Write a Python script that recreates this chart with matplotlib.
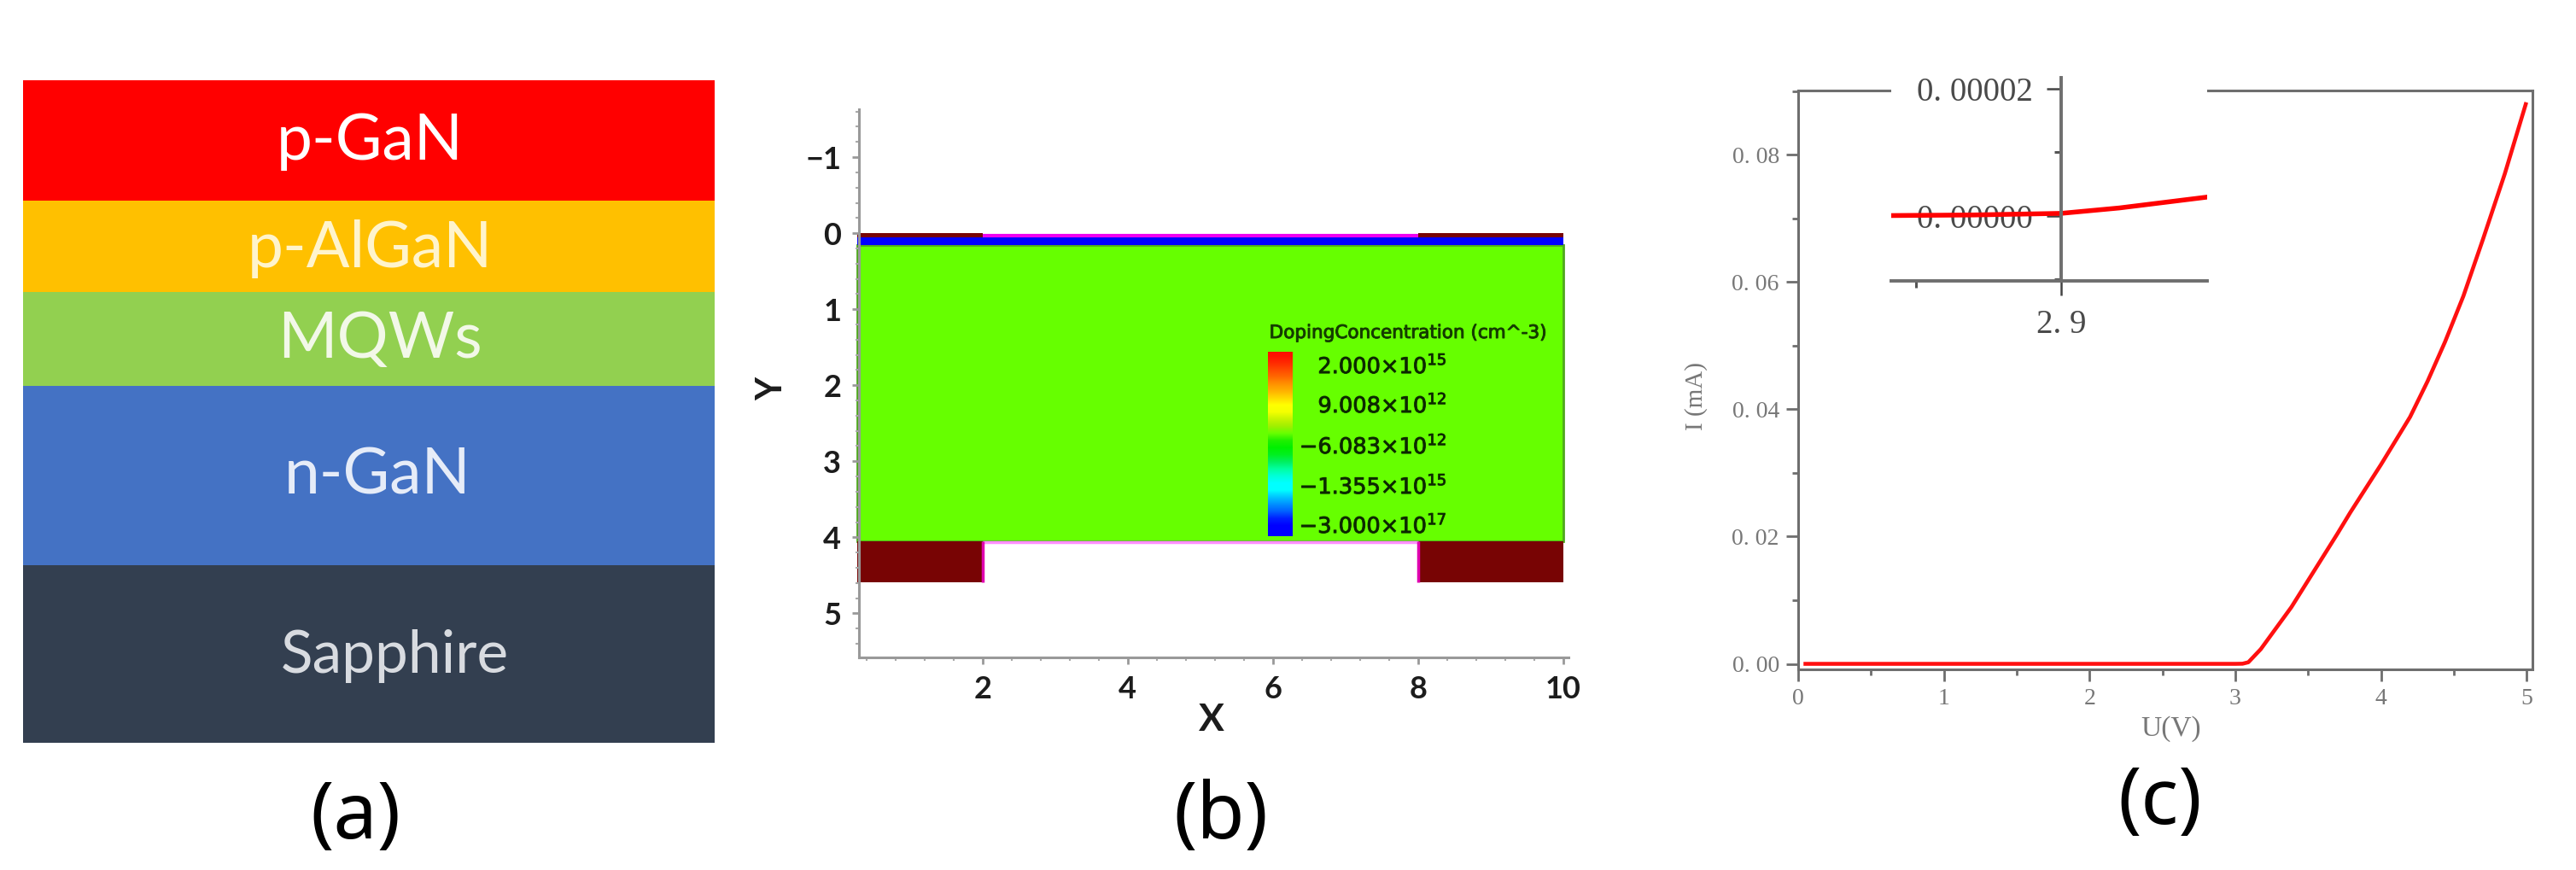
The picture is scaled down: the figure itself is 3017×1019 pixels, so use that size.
import numpy as np
import matplotlib
matplotlib.use("Agg")
import matplotlib.pyplot as plt
import matplotlib.patheffects as pe
from matplotlib.colors import to_rgb
from matplotlib.ticker import MultipleLocator

plt.rcParams["mathtext.default"] = "regular"

W, H = 3017, 1019

# -------------------- data --------------------
# panel a: layer stack, top to bottom
layer_names = ["p-GaN", "p-AlGaN", "MQWs", "n-GaN", "Sapphire"]
layer_heights = [141, 107, 110, 209, 208]
layer_colors = ["#ff0000", "#ffc000", "#92d050", "#4472c4", "#333f50"]

# panel b: device regions (x0, x1, y0, y1)
contact_regions = [(0.28, 2, 0.0, 0.05), (8, 10, 0.0, 0.05),
                   (0.28, 2, 4.05, 4.59), (8, 10, 4.05, 4.59)]
blue_region = (0.28, 10, 0.04, 0.16)
green_region = (0.28, 10, 0.16, 4.05)
doping_labels = ["2.000×10$^{15}$", "9.008×10$^{12}$", "−6.083×10$^{12}$",
                 "−1.355×10$^{15}$", "−3.000×10$^{17}$"]
doping_steps = ["#ff1000", "#ff2800", "#ff4800", "#ff6800", "#ff9000", "#ffb000",
                "#ffd800", "#ffff00", "#f4ff00", "#c8f400", "#a0f000", "#66ff00",
                "#20f000", "#00f000", "#00f020", "#00f060", "#00ffa0", "#00ffd8",
                "#00ffff", "#00ffff", "#00c4ff", "#0090ff", "#0060ff", "#0020ff",
                "#0000ff", "#0000ff"]

# panel c: I-V curve
voltage = [0.05, 1.0, 2.0, 3.0, 3.05, 3.09, 3.175, 3.385, 3.70, 3.79, 4.00, 4.20,
           4.32, 4.44, 4.566, 4.70, 4.85, 4.994]
current = [0, 0, 0, 0, 0.00002, 0.00025, 0.0023, 0.0089, 0.0204, 0.0238, 0.0313, 0.0388,
           0.0444, 0.0506, 0.0578, 0.0667, 0.0770, 0.08795]
inset_voltage = [2.84, 2.87, 2.90, 2.92, 2.95]
inset_current = [0, 0.1e-6, 0.35e-6, 1.2e-6, 2.9e-6]


def px_axes(left, top, right, bottom, **kw):
    return fig.add_axes([left / W, 1 - bottom / H, (right - left) / W, (bottom - top) / H], **kw)


def px_text(x, y, s, **kw):
    return fig.text(x / W, 1 - y / H, s, ha=kw.pop("ha", "center"), va=kw.pop("va", "center"), **kw)


fig = plt.figure(figsize=(W / 100, H / 100), dpi=100, facecolor="white")

# -------------------- panel a --------------------
ax_a = px_axes(27, 94, 837, 870)
ax_a.axis("off")
ax_a.set_xlim(0, 1)
ax_a.set_ylim(sum(layer_heights), 0)
top = 0
for height, color in zip(layer_heights, layer_colors):
    ax_a.bar(0.5, height, width=1, bottom=top, color=color)
    top += height

layer_text_x = [433, 433, 445, 442, 462]
layer_text_y = [166, 291, 397, 557, 768]
layer_text_size = [54, 54, 54, 54, 50]
layer_text_color = ["white", "#fff4cc", "#f2f8e8", "#e6ecf8", "#d8dbe0"]
for i, name in enumerate(layer_names):
    px_text(layer_text_x[i], layer_text_y[i], name, color=layer_text_color[i],
            fontsize=layer_text_size[i], family="Lato")

# -------------------- panel b --------------------
ax_b = px_axes(1006, 128, 1837, 770)
ax_b.set_xlim(0.3, 10.07)
ax_b.set_ylim(5.58, -1.63)

x0, x1, y0, y1 = green_region
ax_b.fill([x0, x1, x1, x0], [y0, y0, y1, y1], facecolor="#66ff00", edgecolor="#4fa81e", lw=2, clip_on=False)
x0, x1, y0, y1 = blue_region
ax_b.fill([x0, x1, x1, x0], [y0, y0, y1, y1], color="#0000ff", lw=0, clip_on=False)
for x0, x1, y0, y1 in contact_regions:
    ax_b.fill([x0, x1, x1, x0], [y0, y0, y1, y1], color="#780404", lw=0, clip_on=False)
ax_b.plot([2, 8], [0.03, 0.03], color="#f000f0", lw=3, solid_capstyle="butt")
ax_b.plot([2, 8], [4.06, 4.06], color="#ff90ff", lw=2.5, solid_capstyle="butt")
ax_b.plot([2, 2], [4.05, 4.59], color="#e000b0", lw=2.5, solid_capstyle="butt")
ax_b.plot([8, 8], [4.05, 4.59], color="#e000b0", lw=2.5, solid_capstyle="butt")

# colour scale inside the plot
steps_rgb = np.array([[to_rgb(c)] for c in doping_steps])
ax_b.imshow(steps_rgb, extent=(5.93, 6.27, 3.98, 1.56), aspect="auto", interpolation="bilinear", zorder=4)
ax_b.set_xlim(0.3, 10.07)
ax_b.set_ylim(5.58, -1.63)

ax_b.set_xticks([2, 4, 6, 8, 10])
ax_b.set_xticklabels(["2", "4", "6", "8", "10"])
ax_b.set_yticks([-1, 0, 1, 2, 3, 4, 5])
ax_b.set_yticklabels(["−1", "0", "1", "2", "3", "4", "5"])
ax_b.xaxis.set_minor_locator(MultipleLocator(0.4))
ax_b.yaxis.set_minor_locator(MultipleLocator(0.2))
ax_b.tick_params(which="major", length=6, width=2, color="#999999", labelsize=26, pad=9, labelcolor="#1c1c1c")
ax_b.tick_params(which="minor", length=3, width=1.5, color="#aaaaaa")
for label in ax_b.get_xticklabels() + ax_b.get_yticklabels():
    label.set_family("Lato")
    label.set_fontweight("bold")
ax_b.spines["top"].set_visible(False)
ax_b.spines["right"].set_visible(False)
ax_b.spines["left"].set_color("#999999")
ax_b.spines["bottom"].set_color("#999999")
ax_b.spines["left"].set_linewidth(2.2)
ax_b.spines["bottom"].set_linewidth(2.2)

px_text(1419, 843, "X", fontsize=32, family="Lato", fontweight="bold", color="#1c1c1c")
px_text(904, 455, "Y", fontsize=30, family="Lato", fontweight="bold", color="#1c1c1c", rotation=90)
thick = [pe.withStroke(linewidth=0.7, foreground="#143c00")]
px_text(1649, 390, "DopingConcentration (cm^-3)", fontsize=15.5, family="DejaVu Sans", color="#143c00",
        zorder=5, path_effects=thick)
doping_label_y = [429, 475, 523, 570, 616]
for label, y in zip(doping_labels, doping_label_y):
    px_text(1695, y, label, ha="right", fontsize=18.5, family="DejaVu Sans", color="#0c2800", zorder=5,
            path_effects=thick)

# -------------------- panel c --------------------
serif = "Liberation Serif"
gray = "#6e6e6e"
ax_c = px_axes(2106, 106, 2966, 783.5)
ax_c.plot(voltage, current, color="#ff1010", lw=3.3)
ax_c.set_xlim(0, 5.04)
ax_c.set_ylim(-0.0008, 0.0901)
ax_c.set_xticks([0, 1, 2, 3, 4, 5])
ax_c.set_yticks([0, 0.02, 0.04, 0.06, 0.08])
ax_c.set_yticklabels(["0. 00", "0. 02", "0. 04", "0. 06", "0. 08"])
ax_c.xaxis.set_minor_locator(MultipleLocator(0.5))
ax_c.yaxis.set_minor_locator(MultipleLocator(0.01))
ax_c.tick_params(which="major", length=10, width=2, color=gray, labelsize=20, labelcolor="#777777", pad=6,
                 labelfontfamily=serif)
ax_c.tick_params(which="minor", length=5, width=2, color=gray)
for spine in ax_c.spines.values():
    spine.set_color(gray)
    spine.set_linewidth(2.2)
px_text(1987, 464, "I (mA)", fontsize=21, family=serif, color="#777777", rotation=90)
px_text(2543, 854, "U(V)", fontsize=24, family=serif, color="#777777")

# zoomed inset
ax_i = px_axes(2215, 90.6, 2585, 329)
ax_i.set_facecolor("white")
ax_i.plot(inset_voltage, inset_current, color="#ff0000", lw=4)
ax_i.set_xlim(2.8415, 2.9503)
ax_i.set_ylim(-1.03e-5, 2.18e-5)
ax_i.spines["top"].set_visible(False)
ax_i.spines["right"].set_visible(False)
ax_i.spines["left"].set_position(("data", 2.9))
ax_i.spines["left"].set_color(gray)
ax_i.spines["left"].set_linewidth(2.8)
ax_i.spines["bottom"].set_color(gray)
ax_i.spines["bottom"].set_linewidth(2.8)
ax_i.set_xticks([2.9])
ax_i.set_xticklabels(["2. 9"])
ax_i.set_yticks([0, 2e-5])
ax_i.set_yticklabels(["0. 00000", "0. 00002"])
ax_i.set_xticks([2.85], minor=True)
ax_i.set_yticks([-1e-5, 1e-5], minor=True)
ax_i.tick_params(which="major", length=12, width=1.8, color="#444444", labelsize=28, labelcolor="#4a4a4a", pad=12,
                 labelfontfamily=serif)
ax_i.tick_params(which="minor", length=6, width=2.2, color="#555555")

# -------------------- captions --------------------
px_text(416, 958, "(a)", fontsize=66, family="Noto Sans", color="black")
px_text(1430, 958, "(b)", fontsize=66, family="Noto Sans", color="black")
px_text(2530, 941, "(c)", fontsize=66, family="Noto Sans", color="black")

plt.savefig("out.png", dpi=100)
